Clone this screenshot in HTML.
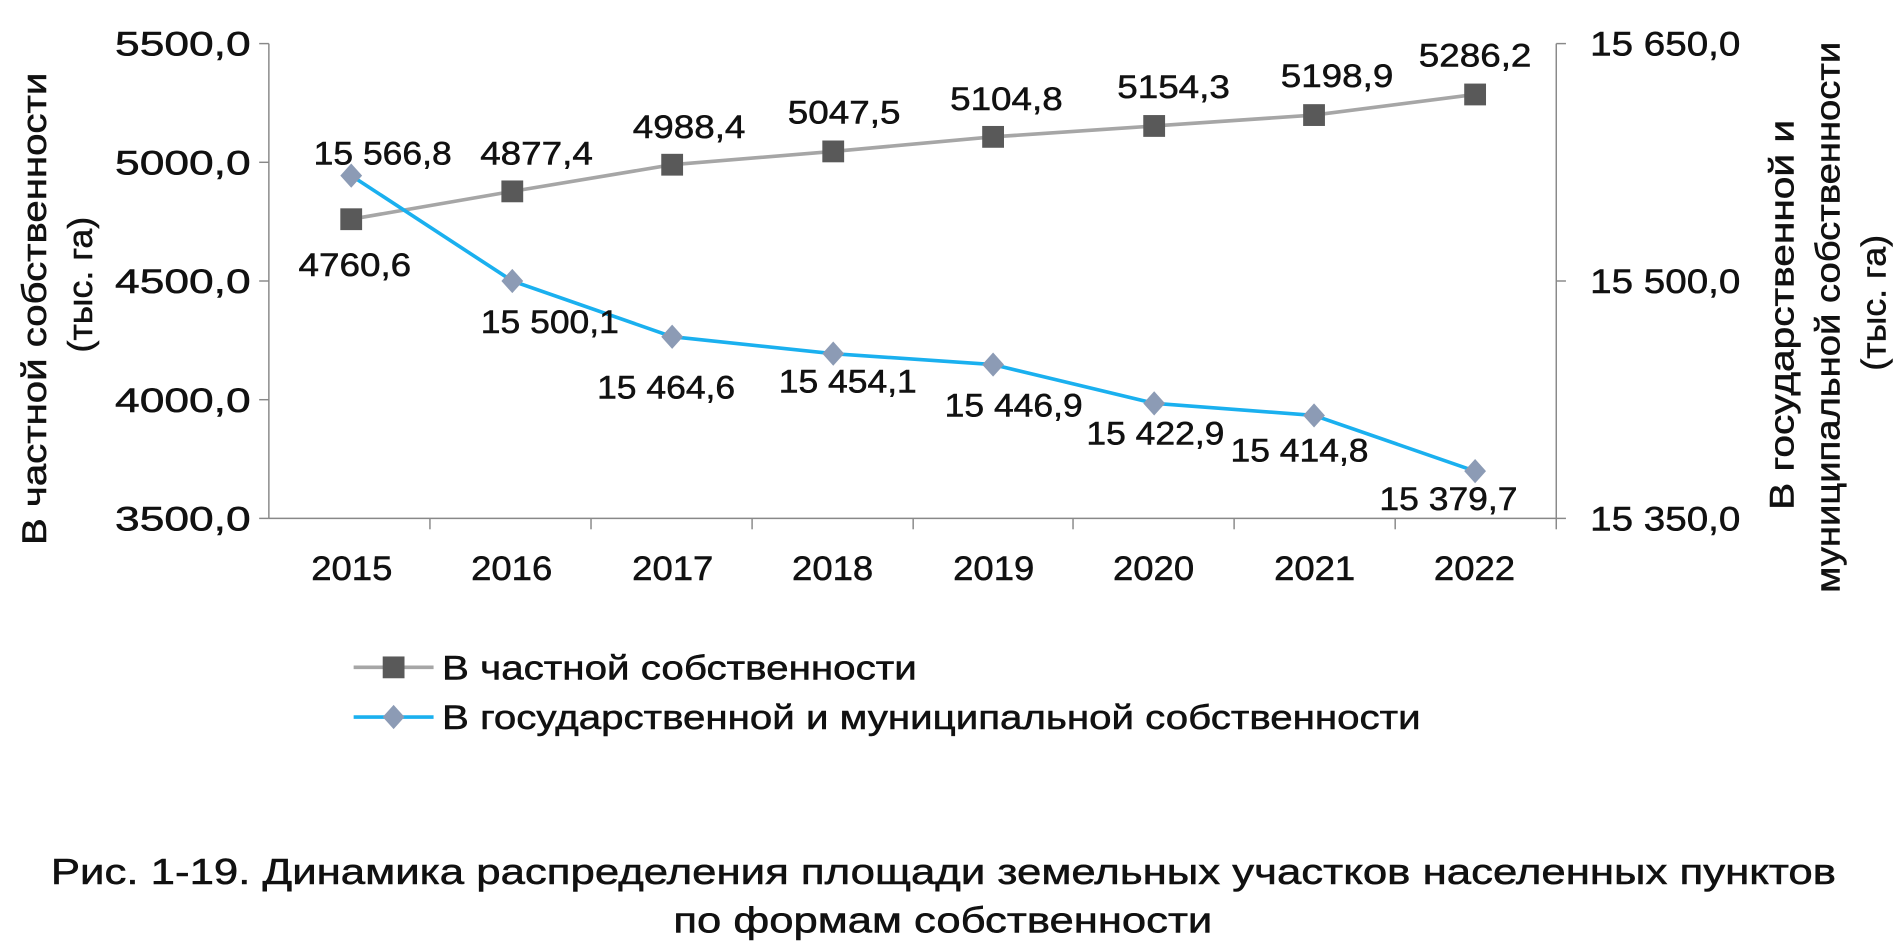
<!DOCTYPE html>
<html><head><meta charset="utf-8"><style>
html,body{margin:0;padding:0;background:#fff;}
svg{display:block;}
text{font-family:"Liberation Sans",sans-serif;fill:#111;stroke:#111;stroke-width:0.45;}
</style></head><body>
<svg width="1899" height="952" viewBox="0 0 1568 786" preserveAspectRatio="none">
<g stroke="#888" stroke-width="1.2" fill="none">
<line x1="222" y1="36" x2="222" y2="428"/>
<line x1="1285" y1="36" x2="1285" y2="428"/>
<line x1="222" y1="428" x2="1285" y2="428"/>
<line x1="214" y1="36" x2="222" y2="36"/><line x1="214" y1="134" x2="222" y2="134"/><line x1="214" y1="232" x2="222" y2="232"/><line x1="214" y1="330" x2="222" y2="330"/><line x1="214" y1="428" x2="222" y2="428"/>
<line x1="1285" y1="36" x2="1293" y2="36"/><line x1="1285" y1="232" x2="1293" y2="232"/><line x1="1285" y1="428" x2="1293" y2="428"/>
<line x1="355" y1="428" x2="355" y2="437"/><line x1="488" y1="428" x2="488" y2="437"/><line x1="621" y1="428" x2="621" y2="437"/><line x1="754" y1="428" x2="754" y2="437"/><line x1="886" y1="428" x2="886" y2="437"/><line x1="1019" y1="428" x2="1019" y2="437"/><line x1="1152" y1="428" x2="1152" y2="437"/><line x1="1285" y1="428" x2="1285" y2="437"/>
</g>
<g font-size="28" lengthAdjust="spacingAndGlyphs">
<text x="95" y="46" textLength="112" lengthAdjust="spacingAndGlyphs">5500,0</text><text x="95" y="144" textLength="112" lengthAdjust="spacingAndGlyphs">5000,0</text><text x="95" y="242" textLength="112" lengthAdjust="spacingAndGlyphs">4500,0</text><text x="95" y="340" textLength="112" lengthAdjust="spacingAndGlyphs">4000,0</text><text x="95" y="438" textLength="112" lengthAdjust="spacingAndGlyphs">3500,0</text>
<text x="1313" y="46" textLength="124" lengthAdjust="spacingAndGlyphs">15 650,0</text><text x="1313" y="242" textLength="124" lengthAdjust="spacingAndGlyphs">15 500,0</text><text x="1313" y="438" textLength="124" lengthAdjust="spacingAndGlyphs">15 350,0</text>
</g>
<g font-size="28">
<text x="257" y="479" textLength="67" lengthAdjust="spacingAndGlyphs">2015</text><text x="389" y="479" textLength="67" lengthAdjust="spacingAndGlyphs">2016</text><text x="522" y="479" textLength="67" lengthAdjust="spacingAndGlyphs">2017</text><text x="654" y="479" textLength="67" lengthAdjust="spacingAndGlyphs">2018</text><text x="787" y="479" textLength="67" lengthAdjust="spacingAndGlyphs">2019</text><text x="919" y="479" textLength="67" lengthAdjust="spacingAndGlyphs">2020</text><text x="1052" y="479" textLength="67" lengthAdjust="spacingAndGlyphs">2021</text><text x="1184" y="479" textLength="67" lengthAdjust="spacingAndGlyphs">2022</text>
</g>
<g font-size="28" text-anchor="middle">
<text transform="translate(38,255) rotate(-90)" textLength="390" lengthAdjust="spacingAndGlyphs">В частной собственности</text>
<text transform="translate(76,235) rotate(-90)" textLength="112" lengthAdjust="spacingAndGlyphs">(тыс. га)</text>
<text transform="translate(1481,260) rotate(-90)" textLength="322" lengthAdjust="spacingAndGlyphs">В государственной и</text>
<text transform="translate(1519,262) rotate(-90)" textLength="455" lengthAdjust="spacingAndGlyphs">муниципальной собственности</text>
<text transform="translate(1557,250) rotate(-90)" textLength="112" lengthAdjust="spacingAndGlyphs">(тыс. га)</text>
</g>
<polyline fill="none" stroke="#a6a6a6" stroke-width="3" points="290,181 423,158 555,136 688,125 820,113 953,104 1085,95 1218,78"/>
<g fill="#595959">
<rect x="281" y="172" width="18" height="18"/><rect x="414" y="149" width="18" height="18"/><rect x="546" y="127" width="18" height="18"/><rect x="679" y="116" width="18" height="18"/><rect x="811" y="104" width="18" height="18"/><rect x="944" y="95" width="18" height="18"/><rect x="1076" y="86" width="18" height="18"/><rect x="1209" y="69" width="18" height="18"/>
</g>
<polyline fill="none" stroke="#1ab0ef" stroke-width="3" points="290,145 423,232 555,278 688,292 820,301 953,333 1085,343 1218,389"/>
<g fill="#8c9bb5">
<path d="M290,135l9,10l-9,10l-9,-10z"/><path d="M423,222l9,10l-9,10l-9,-10z"/><path d="M555,268l9,10l-9,10l-9,-10z"/><path d="M688,282l9,10l-9,10l-9,-10z"/><path d="M820,291l9,10l-9,10l-9,-10z"/><path d="M953,323l9,10l-9,10l-9,-10z"/><path d="M1085,333l9,10l-9,10l-9,-10z"/><path d="M1218,379l9,10l-9,10l-9,-10z"/>
</g>
<g font-size="27" text-anchor="middle">
<text x="293" y="228" textLength="93" lengthAdjust="spacingAndGlyphs">4760,6</text><text x="443" y="136" textLength="93" lengthAdjust="spacingAndGlyphs">4877,4</text><text x="569" y="114" textLength="93" lengthAdjust="spacingAndGlyphs">4988,4</text><text x="697" y="102" textLength="93" lengthAdjust="spacingAndGlyphs">5047,5</text><text x="831" y="91" textLength="93" lengthAdjust="spacingAndGlyphs">5104,8</text><text x="969" y="81" textLength="93" lengthAdjust="spacingAndGlyphs">5154,3</text><text x="1104" y="72" textLength="93" lengthAdjust="spacingAndGlyphs">5198,9</text><text x="1218" y="55" textLength="93" lengthAdjust="spacingAndGlyphs">5286,2</text>
<text x="316" y="136" textLength="114" lengthAdjust="spacingAndGlyphs">15 566,8</text><text x="454" y="275" textLength="114" lengthAdjust="spacingAndGlyphs">15 500,1</text><text x="550" y="329" textLength="114" lengthAdjust="spacingAndGlyphs">15 464,6</text><text x="700" y="324" textLength="114" lengthAdjust="spacingAndGlyphs">15 454,1</text><text x="837" y="344" textLength="114" lengthAdjust="spacingAndGlyphs">15 446,9</text><text x="954" y="367" textLength="114" lengthAdjust="spacingAndGlyphs">15 422,9</text><text x="1073" y="381" textLength="114" lengthAdjust="spacingAndGlyphs">15 414,8</text><text x="1196" y="421" textLength="114" lengthAdjust="spacingAndGlyphs">15 379,7</text>
</g>
<line x1="292" y1="551" x2="358" y2="551" stroke="#a6a6a6" stroke-width="3"/>
<rect x="316" y="542" width="18" height="18" fill="#595959"/>
<line x1="292" y1="592" x2="358" y2="592" stroke="#1ab0ef" stroke-width="3"/>
<path d="M325,582l9,10l-9,10l-9,-10z" fill="#8c9bb5"/>
<text x="365" y="561" font-size="28" textLength="392" lengthAdjust="spacingAndGlyphs">В частной собственности</text>
<text x="365" y="602" font-size="28" textLength="808" lengthAdjust="spacingAndGlyphs">В государственной и муниципальной собственности</text>
<text x="42" y="730" font-size="30" textLength="1474" lengthAdjust="spacingAndGlyphs">Рис. 1-19. Динамика распределения площади земельных участков населенных пунктов</text>
<text x="556" y="770" font-size="30" textLength="445" lengthAdjust="spacingAndGlyphs">по формам собственности</text>
</svg>
</body></html>
